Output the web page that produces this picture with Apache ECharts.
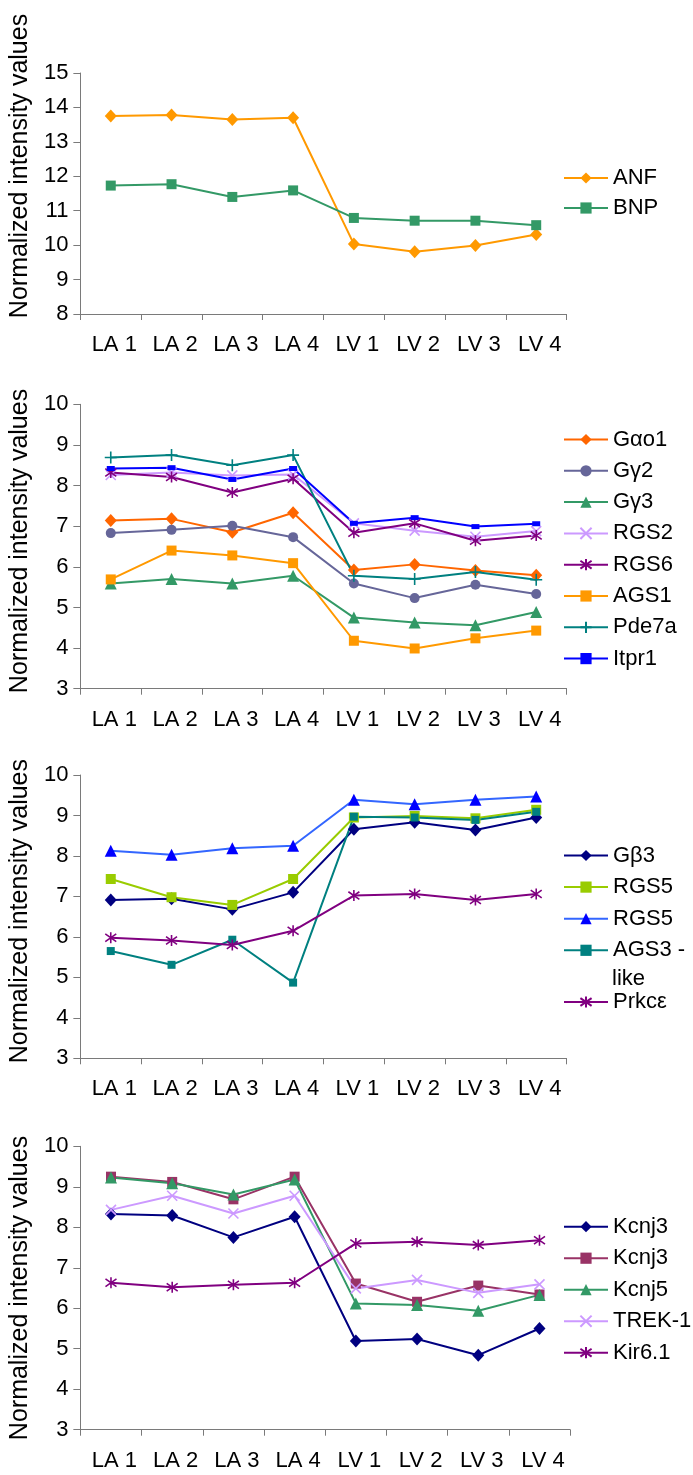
<!DOCTYPE html>
<html>
<head>
<meta charset="utf-8">
<script src="https://cdn.jsdelivr.net/npm/echarts@6/dist/echarts.min.js"></script>
<style>
  html, body { margin: 0; padding: 0; background: #fff; }
  #chart { width: 693px; height: 1475px; }
</style>
</head>
<body>
<div id="chart"></div>
<script>
  const categories = ['LA 1', 'LA 2', 'LA 3', 'LA 4', 'LV 1', 'LV 2', 'LV 3', 'LV 4'];

  // panel 1
  const anf = [13.75, 13.78, 13.65, 13.70, 10.03, 9.81, 9.99, 10.31];
  const bnp = [11.73, 11.77, 11.40, 11.59, 10.79, 10.71, 10.71, 10.58];

  // panel 2
  const gao1 = [7.14, 7.18, 6.85, 7.33, 5.92, 6.06, 5.91, 5.79];
  const gg2 = [6.83, 6.91, 7.01, 6.73, 5.59, 5.23, 5.56, 5.33];
  const gg3 = [5.59, 5.70, 5.59, 5.78, 4.75, 4.63, 4.56, 4.89];
  const rgs2 = [8.26, 8.32, 8.25, 8.27, 7.07, 6.89, 6.74, 6.88];
  const rgs6 = [8.32, 8.21, 7.83, 8.17, 6.84, 7.07, 6.64, 6.77];
  const ags1 = [5.69, 6.40, 6.28, 6.09, 4.18, 3.99, 4.24, 4.43];
  const pde7a = [8.69, 8.75, 8.50, 8.75, 5.78, 5.70, 5.87, 5.68];
  const itpr1 = [8.42, 8.44, 8.15, 8.42, 7.07, 7.21, 6.99, 7.06];

  // panel 3
  const gb3 = [6.91, 6.94, 6.68, 7.10, 8.66, 8.83, 8.64, 8.95];
  const rgs5a = [7.43, 6.98, 6.79, 7.43, 8.95, 8.99, 8.93, 9.14];
  const rgs5b = [8.13, 8.03, 8.19, 8.25, 9.39, 9.28, 9.39, 9.47];
  const ags3 = [5.65, 5.31, 5.93, 4.87, 8.97, 8.95, 8.89, 9.09];
  const prkce = [5.98, 5.91, 5.80, 6.15, 7.02, 7.06, 6.91, 7.06];

  // panel 4
  const kcnj3a = [8.33, 8.29, 7.75, 8.26, 5.19, 5.24, 4.84, 5.50];
  const kcnj3b = [9.25, 9.12, 8.69, 9.25, 6.61, 6.16, 6.56, 6.34];
  const kcnj5 = [9.23, 9.09, 8.81, 9.18, 6.12, 6.08, 5.94, 6.33];
  const trek1 = [8.43, 8.78, 8.34, 8.78, 6.49, 6.70, 6.38, 6.59];
  const kir61 = [6.63, 6.52, 6.58, 6.63, 7.60, 7.64, 7.56, 7.68];

  const yRanges = [[8, 15], [3, 10], [3, 10], [3, 10]];
  const yName = 'Normalized intensity values';

  // legend text for each series key (two panels repeat a name)
  const labels = {
    anf: 'ANF', bnp: 'BNP',
    gao1: 'G\u03b1o1', gg2: 'G\u03b32', gg3: 'G\u03b33', rgs2: 'RGS2', rgs6: 'RGS6',
    ags1: 'AGS1', pde7a: 'Pde7a', itpr1: 'Itpr1',
    gb3: 'G\u03b23', rgs5a: 'RGS5', rgs5b: 'RGS5', ags3: 'AGS3 -', prkce: 'Prkc\u03b5',
    kcnj3a: 'Kcnj3', kcnj3b: 'Kcnj3', kcnj5: 'Kcnj5', trek1: 'TREK-1', kir61: 'Kir6.1',
  };

  const FONT = "'Liberation Sans', Arial, sans-serif";
  const AXIS_COLOR = '#7a7a7a';
  const X_PATH = 'path://M0,0L10,10M10,0L0,10';
  const STAR_PATH = 'path://M0,1.5L10,8.5M10,1.5L0,8.5M5,0L5,10';
  const PLUS_PATH = 'path://M5,0L5,10M0,5L10,5';

  let myChart = null;

  function initChart() {
    const dom = document.getElementById('chart');
    if (dom) {
      myChart = echarts.init(dom);
      setOption();
    }
  }

  function line(key, data, panel, color, symbol, size, markerColor, border) {
    return {
      name: key,
      type: 'line',
      xAxisIndex: panel,
      yAxisIndex: panel,
      data: data,
      symbol: symbol,
      symbolSize: size,
      showSymbol: true,
      lineStyle: { color: color, width: 2 },
      itemStyle: {
        color: markerColor || color,
        borderColor: markerColor || color,
        borderWidth: border || 0,
      },
      z: 3,
    };
  }

  function setOption() {
    const grids = [
      { left: 75.6, top: 73, width: 491, height: 241 },
      { left: 75.6, top: 404.3, width: 491, height: 284.4 },
      { left: 75.6, top: 775, width: 491, height: 283.3 },
      { left: 75.6, top: 1146.3, width: 494.5, height: 283.4 },
    ];
    const namePad = [55, 11, 11, 0];

    const xAxis = grids.map((g, i) => ({
      type: 'category',
      gridIndex: i,
      data: categories,
      boundaryGap: true,
      axisLine: { lineStyle: { color: AXIS_COLOR, width: 1 } },
      axisTick: { show: true, length: 6, lineStyle: { color: AXIS_COLOR } },
      axisLabel: {
        interval: 0, margin: 20, color: '#000', fontSize: 22, fontFamily: FONT,
        padding: [0, 0, 0, 7],
      },
      splitLine: { show: false },
    }));

    const yAxis = grids.map((g, i) => ({
      type: 'value',
      gridIndex: i,
      min: yRanges[i][0],
      max: yRanges[i][1],
      interval: 1,
      name: yName,
      nameLocation: 'middle',
      nameRotate: 90,
      nameGap: 39,
      nameTextStyle: {
        color: '#000', fontSize: 25, fontFamily: FONT,
        padding: [0, 0, 0, namePad[i]],
      },
      axisLine: { show: true, lineStyle: { color: AXIS_COLOR, width: 1 } },
      axisTick: { show: true, length: 7, lineStyle: { color: AXIS_COLOR } },
      axisLabel: { margin: 12, color: '#000', fontSize: 22, fontFamily: FONT },
      splitLine: { show: false },
    }));

    const series = [
      line('anf', anf, 0, '#FF9900', 'diamond', [12, 13]),
      line('bnp', bnp, 0, '#339966', 'rect', 10),

      line('gao1', gao1, 1, '#FF6600', 'diamond', [12, 13]),
      line('gg2', gg2, 1, '#666699', 'circle', 10),
      line('gg3', gg3, 1, '#339966', 'triangle', 12),
      line('rgs2', rgs2, 1, '#CC99FF', X_PATH, 10, null, 1.6),
      line('rgs6', rgs6, 1, '#800080', STAR_PATH, 11, null, 1.6),
      line('ags1', ags1, 1, '#FF9900', 'rect', 10),
      line('pde7a', pde7a, 1, '#008080', PLUS_PATH, 12, null, 1.6),
      line('itpr1', itpr1, 1, '#0000FF', 'rect', [8, 5]),

      line('gb3', gb3, 2, '#000080', 'diamond', [12, 13]),
      line('rgs5a', rgs5a, 2, '#99CC00', 'rect', 10),
      line('rgs5b', rgs5b, 2, '#3366FF', 'triangle', 12, '#0000FF'),
      line('ags3', ags3, 2, '#008080', 'rect', 8),
      line('prkce', prkce, 2, '#800080', STAR_PATH, 11, null, 1.6),

      line('kcnj3a', kcnj3a, 3, '#000080', 'diamond', [12, 13]),
      line('kcnj3b', kcnj3b, 3, '#993366', 'rect', 10),
      line('kcnj5', kcnj5, 3, '#339966', 'triangle', 12),
      line('trek1', trek1, 3, '#CC99FF', X_PATH, 10, null, 1.6),
      line('kir61', kir61, 3, '#800080', STAR_PATH, 11, null, 1.6),
    ];

    const legendBase = {
      orient: 'vertical',
      left: 563,
      padding: 0,
      itemWidth: 44,
      itemHeight: 14,
      selectedMode: false,
      formatter: (name) => labels[name],
      textStyle: { color: '#000', fontSize: 22, fontFamily: FONT, lineHeight: 22 },
    };

    const legend = [
      { ...legendBase, top: 167, itemGap: 8, data: ['anf', 'bnp'] },
      { ...legendBase, top: 428.5, itemGap: 9.3,
        data: ['gao1', 'gg2', 'gg3', 'rgs2', 'rgs6', 'ags1', 'pde7a', 'itpr1'] },
      { ...legendBase, top: 844.5, itemGap: 9.6, data: ['gb3', 'rgs5a', 'rgs5b', 'ags3'] },
      { ...legendBase, top: 991, itemGap: 9.6, data: ['prkce'] },
      { ...legendBase, top: 1215.7, itemGap: 9.5,
        data: ['kcnj3a', 'kcnj3b', 'kcnj5', 'trek1', 'kir61'] },
    ];

    const options = {
      animation: false,
      backgroundColor: '#fff',
      textStyle: { fontFamily: FONT },
      grid: grids,
      xAxis: xAxis,
      yAxis: yAxis,
      legend: legend,
      // second line of the "AGS3 - like" legend entry
      graphic: [
        {
          type: 'text',
          left: 612,
          top: 968,
          style: { text: 'like', fill: '#000', fontSize: 22, fontFamily: FONT },
        },
      ],
      series: series,
    };
    if (myChart) {
      myChart.setOption(options);
    }
  }

  initChart();
</script>
</body>
</html>
